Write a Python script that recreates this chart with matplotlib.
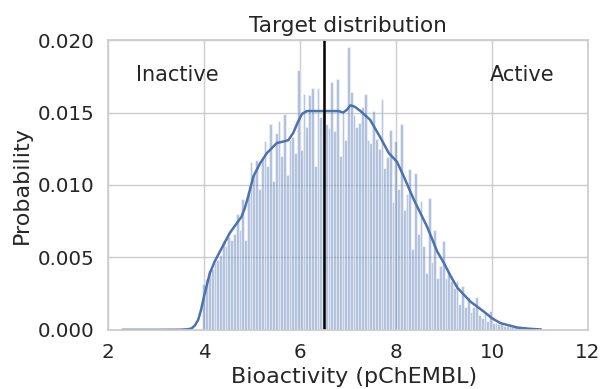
import matplotlib
matplotlib.use("Agg")
import matplotlib.pyplot as plt
import numpy as np
import seaborn as sns

sns.set(style="whitegrid", font_scale=1.3)
plt.rcParams['font.family'] = ['DejaVu Sans']

# histogram bins (pChEMBL), first bin centre and bin width
bin_start = 3.995
bin_width = 0.058
bar_heights = [
    0.0032, 0.0035, 0.0041, 0.0042, 0.0046, 0.0048, 0.0052, 0.0061, 0.0058, 0.0064,
    0.0062, 0.0066, 0.0080, 0.0069, 0.0090, 0.0062, 0.0095, 0.0116, 0.0108, 0.0117,
    0.0097, 0.0118, 0.0130, 0.0113, 0.0142, 0.0103, 0.0136, 0.0144, 0.0120, 0.0149,
    0.0107, 0.0131, 0.0133, 0.0122, 0.0179, 0.0124, 0.0163, 0.0140, 0.0162, 0.0167,
    0.0113, 0.0167, 0.0147, 0.0150, 0.0142, 0.0139, 0.0171, 0.0137, 0.0173, 0.0120,
    0.0151, 0.0131, 0.0195, 0.0164, 0.0148, 0.0140, 0.0143, 0.0154, 0.0163, 0.0131,
    0.0129, 0.0151, 0.0132, 0.0125, 0.0159, 0.0112, 0.0119, 0.0138, 0.0088, 0.0130,
    0.0097, 0.0142, 0.0083, 0.0094, 0.0111, 0.0056, 0.0108, 0.0066, 0.0089, 0.0058,
    0.0039, 0.0091, 0.0047, 0.0069, 0.0036, 0.0044, 0.0061, 0.0036, 0.0040, 0.0034,
    0.0029, 0.0034, 0.0018, 0.0030, 0.0016, 0.0023, 0.0012, 0.0016, 0.0023, 0.0010,
    0.0008, 0.0012, 0.0006, 0.0013, 0.0005, 0.0005, 0.0004, 0.0004, 0.0003, 0.0003,
    0.0003, 0.0002, 0.0002, 0.0002, 0.0001, 0.0001, 0.0001, 0.0001, 0.0001, 0.0001,
    0.00005,
]

# kernel density curve
kde_x = [2.30, 3.00, 3.50, 3.66, 3.74, 3.81, 3.88, 3.94, 4.00, 4.06, 4.12, 4.22,
         4.33, 4.54, 4.78, 4.85, 4.92, 5.03, 5.17, 5.31, 5.52, 5.66, 5.76, 5.86,
         5.95, 6.04, 6.14, 6.30, 6.49, 6.80, 6.90, 6.98, 7.05, 7.14, 7.26, 7.46,
         7.67, 7.85, 8.02, 8.16, 8.37, 8.65, 8.86, 9.00, 9.14, 9.28, 9.55, 9.83,
         10.00, 10.18, 10.53, 10.80, 11.02]
kde_y = [0.0, 0.0, 0.00001, 0.00004, 0.0001, 0.0003, 0.0007, 0.0014, 0.0023, 0.0031,
         0.0039, 0.0047, 0.0054, 0.0067, 0.0078, 0.0084, 0.0092, 0.0106, 0.0115,
         0.0122, 0.0129, 0.0130, 0.0131, 0.0136, 0.0143, 0.0149, 0.0151, 0.0151,
         0.0151, 0.0151, 0.0150, 0.0152, 0.0155, 0.0154, 0.0151, 0.0145, 0.0133,
         0.0122, 0.0116, 0.0106, 0.0090, 0.0071, 0.0054, 0.0046, 0.0037, 0.0029,
         0.00195, 0.00126, 0.0008, 0.00046, 0.00016, 0.00007, 0.00003]

threshold = 6.5

fig = plt.figure(figsize=(6, 3.89), dpi=100)
ax = fig.add_axes([0.18, 0.152, 0.80, 0.745])

centres = bin_start + bin_width * np.arange(len(bar_heights))
ax.bar(centres, bar_heights, width=bin_width, color='#4c72b0', alpha=0.45,
       edgecolor='white', linewidth=0.9)
ax.plot(kde_x, kde_y, color='#4c72b0', lw=1.8, solid_joinstyle='round')
ax.axvline(threshold, color='black', lw=1.8)

ax.text(3.45, 0.0176, 'Inactive', ha='center', va='center', fontsize=15, color='.15')
ax.text(10.62, 0.0176, 'Active', ha='center', va='center', fontsize=15, color='.15')

ax.set_xlim(2, 12)
ax.set_ylim(0, 0.020)
ax.set_xticks([2, 4, 6, 8, 10, 12])
ax.set_yticks([0.0, 0.005, 0.010, 0.015, 0.020])
ax.set_yticklabels(['0.000', '0.005', '0.010', '0.015', '0.020'])
ax.set_title('Target distribution', fontsize=15.6, pad=6)
ax.set_xlabel('Bioactivity (pChEMBL)', fontsize=16)
ax.xaxis.set_label_coords(0.513, -0.128)
ax.set_ylabel('Probability', fontsize=16)

fig.savefig('out.png', dpi=100)
